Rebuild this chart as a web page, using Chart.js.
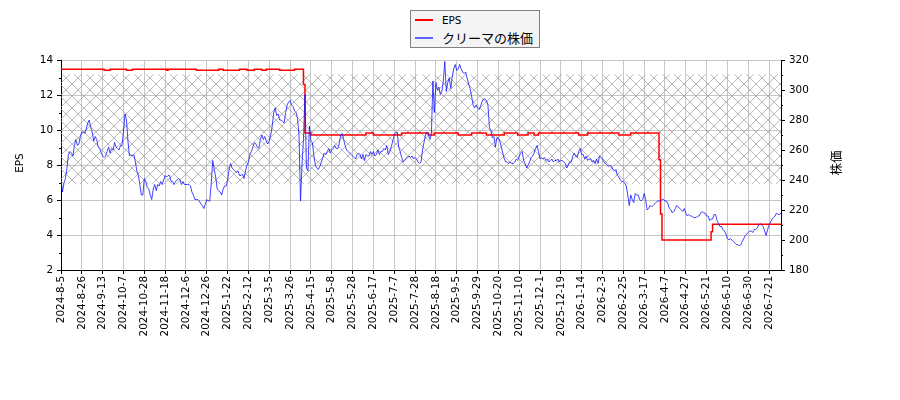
<!DOCTYPE html>
<html>
<head>
<meta charset="utf-8">
<script src="https://cdn.jsdelivr.net/npm/chart.js@4.4.1/dist/chart.umd.min.js"></script>
<style>
  body { margin: 0; background: #fff; }
  #wrap { position: relative; width: 900px; height: 400px; }
  #legend {
    position: absolute; left: 410px; top: 10px; width: 128px; height: 36px;
    border: 1px solid #808080; background: #f4f4f4;
  }
  .item { position: absolute; left: 0; width: 128px; height: 18px; }
  .sw { position: absolute; left: 4px; top: 8px; width: 18px; height: 2px; }
  .lbl { position: absolute; left: 31px; white-space: nowrap; line-height: 18px; color: #000; }
</style>
</head>
<body>
<div id="wrap">
  <canvas id="chart" width="900" height="400"></canvas>
  <div id="legend">
    <div class="item" style="top:0px">
      <div class="sw" style="background:#ff0000"></div>
      <span class="lbl" style="font:10.4px 'DejaVu Sans';line-height:18px">EPS</span>
    </div>
    <div class="item" style="top:18px">
      <div class="sw" style="background:#6060ff"></div>
      <span class="lbl" style="font:13px 'Noto Sans CJK JP';line-height:18px">クリーマの株価</span>
    </div>
  </div>
</div>
<script>
// x tick labels, one every 14 trading days
const tickLabels = ["2024-8-5","2024-8-26","2024-9-13","2024-10-7","2024-10-28","2024-11-18","2024-12-6","2024-12-26",
  "2025-1-22","2025-2-12","2025-3-5","2025-3-26","2025-4-15","2025-5-8","2025-5-28","2025-6-17","2025-7-7",
  "2025-7-28","2025-8-18","2025-9-5","2025-9-29","2025-10-20","2025-11-10","2025-12-1","2025-12-19",
  "2026-1-14","2026-2-3","2026-2-25","2026-3-17","2026-4-7","2026-4-27","2026-5-21","2026-6-10","2026-6-30","2026-7-21"];
const tickEvery = 14;

// EPS: trading-day index where the value changes, and the value from there on
const epsDay = [0, 29, 33, 44, 48, 71, 72, 91, 106, 109, 120, 125, 130, 135, 138, 147, 157, 163,
  164, 168, 205, 210, 229, 247, 251, 267, 276, 286, 298, 307, 314, 318, 321, 348, 354, 375, 383,
  402, 403, 404, 437, 438, 484];
const epsVal = [13.47, 13.41, 13.47, 13.41, 13.47, 13.41, 13.47, 13.41, 13.47, 13.41, 13.47, 13.41, 13.47, 13.41, 13.47, 13.41, 13.47, 12.6,
  9.83, 9.72, 9.83, 9.72, 9.83, 9.72, 9.83, 9.72, 9.83, 9.72, 9.83, 9.72, 9.83, 9.72, 9.83, 9.72, 9.83, 9.72, 9.83,
  8.3, 5.2, 3.71, 4.19, 4.61, 4.61];

// daily close, one value per trading day
const price = [
  241,232,238,241,248,257,259,258,256,263, 267,263,264,269,272,272,271,274,278,280,
  275,272,266,269,267,262,261,258,256,255, 256,259,262,258,261,260,265,262,261,260,
  263,263,272,284,280,266,256,257,256,257, 252,246,243,237,230,230,241,239,235,234,
  230,227,234,237,233,237,236,239,237,240, 243,242,243,243,239,239,237,239,240,241,
  240,237,239,237,237,237,237,236,232,230, 227,227,227,226,224,223,221,224,227,226,
  226,238,253,247,242,234,233,232,230,234, 236,236,240,247,251,248,247,246,245,246,
  243,243,244,241,246,250,252,257,259,262, 265,264,262,261,267,270,267,269,266,264,
  266,270,276,285,288,283,284,280,280,279, 278,285,290,292,293,290,289,286,285,281,
  270,226,250,267,297,248,246,276,266,265, 256,250,248,247,249,252,255,258,257,259,
  261,258,260,261,263,261,261,264,270,271, 267,263,260,259,258,257,256,255,254,257,
  258,257,254,257,253,257,256,256,259,257, 259,256,257,260,257,259,259,261,260,263,
  257,259,262,266,270,271,272,262,259,255, 252,253,254,255,256,255,256,254,255,254,
  252,251,252,260,265,270,272,270,267,271, 306,285,305,300,302,297,299,306,319,299,
  305,308,301,309,314,317,313,314,317,314, 312,311,312,308,304,301,296,290,288,290,
  288,287,289,292,294,294,293,290,275,273, 268,269,262,268,268,266,262,258,254,252,
  252,251,252,251,251,252,254,253,256,258, 259,253,251,248,250,252,255,256,258,261,
  263,259,254,255,254,255,253,254,252,253, 254,252,253,253,254,252,253,253,252,251,
  248,250,252,252,256,258,256,255,259,261, 257,257,254,256,253,254,254,252,253,251,
  254,251,256,255,254,252,251,250,249,250, 249,247,246,247,243,242,240,239,239,238,
  236,230,223,230,227,225,231,230,230,227, 226,227,231,227,220,221,223,222,223,224,
  225,226,226,226,227,227,226,226,224,221, 220,218,219,221,223,222,221,220,219,221,
  218,216,217,216,216,215,215,215,216,216, 218,219,218,218,216,216,213,214,214,217,
  217,213,211,209,209,207,206,204,201,200, 201,200,199,198,197,197,196,197,199,201,
  203,204,205,206,206,205,207,207,208,210, 211,210,209,206,203,207,210,212,214,215,
  216,218,217,217,218
];

// hatched price band (right axis)
const bandTop = 310.5;
const bandBottom = 237.2;

function makeHatch() {
    const c = document.createElement('canvas');
    c.width = 12; c.height = 12;
    const g = c.getContext('2d');
    g.strokeStyle = '#a8a8a8';
    g.lineWidth = 0.8;
    g.beginPath();
    g.moveTo(-1, -1); g.lineTo(13, 13);
    g.moveTo(13, -1); g.lineTo(-1, 13);
    g.stroke();
    return g.createPattern(c, 'repeat');
}

const hatchBand = {
    id: 'hatchBand',
    beforeDatasetsDraw(chart) {
        const { ctx, chartArea: a, scales } = chart;
        const y0 = scales.y1.getPixelForValue(bandTop);
        const y1 = scales.y1.getPixelForValue(bandBottom);
        ctx.save();
        ctx.fillStyle = makeHatch();
        ctx.fillRect(a.left, y0, a.right - a.left, y1 - y0);
        ctx.restore();
    }
};

const extras = {
    id: 'extras',
    afterDraw(chart) {
        const { ctx, chartArea: a, scales } = chart;
        ctx.save();
        ctx.strokeStyle = '#000';
        ctx.lineWidth = 1;
        ctx.beginPath();
        // minor ticks
        for (let v = 3; v < 14; v += 2) {
            const y = Math.round(scales.y.getPixelForValue(v)) + 0.5;
            ctx.moveTo(a.left - 2, y); ctx.lineTo(a.left, y);
        }
        for (let v = 190; v < 320; v += 20) {
            const y = Math.round(scales.y1.getPixelForValue(v)) + 0.5;
            ctx.moveTo(a.right, y); ctx.lineTo(a.right + 2, y);
        }
        ctx.stroke();

        // axis titles
        const mid = (a.top + a.bottom) / 2 - 2;
        ctx.fillStyle = '#000';
        ctx.textAlign = 'center';
        ctx.textBaseline = 'middle';
        ctx.translate(20, mid);
        ctx.rotate(-Math.PI / 2);
        ctx.font = '10.4px "DejaVu Sans"';
        ctx.fillText('EPS', 0, 0);
        ctx.restore();

        ctx.save();
        ctx.fillStyle = '#000';
        ctx.textAlign = 'center';
        ctx.textBaseline = 'middle';
        ctx.translate(836, mid);
        ctx.rotate(-Math.PI / 2);
        ctx.font = '12.5px "Noto Sans CJK JP"';
        ctx.fillText('株価', 0, 0);
        ctx.restore();
    }
};

Chart.defaults.font.family = '"DejaVu Sans"';
Chart.defaults.font.size = 10.4;
Chart.defaults.color = '#000';

new Chart(document.getElementById('chart'), {
    type: 'line',
    data: {
        datasets: [
            {
                label: 'EPS',
                data: epsDay.map((d, i) => ({ x: d, y: epsVal[i] })),
                yAxisID: 'y',
                borderColor: '#ff0000',
                borderWidth: 1.5,
                stepped: 'before',
                pointRadius: 0,
                order: 1,
            },
            {
                label: 'クリーマの株価',
                data: price.map((v, i) => ({ x: i, y: v })),
                yAxisID: 'y1',
                borderColor: 'rgba(20, 20, 255, 0.8)',
                borderWidth: 1,
                pointRadius: 0,
                order: 0,
            }
        ]
    },
    options: {
        responsive: false,
        animation: false,
        devicePixelRatio: 1,
        layout: { padding: { top: 60, left: 0, right: 0, bottom: 0 } },
        plugins: {
            legend: { display: false },
            tooltip: { enabled: false }
        },
        scales: {
            x: {
                type: 'linear',
                min: 0,
                max: price.length - 1,
                afterFit: s => { s.height = 130; },
                afterBuildTicks: s => { s.ticks = tickLabels.map((_, i) => ({ value: i * tickEvery })); },
                ticks: {
                    autoSkip: false,
                    minRotation: 90,
                    maxRotation: 90,
                    padding: 2,
                    callback: v => tickLabels[Math.round(v / tickEvery)] || ''
                },
                grid: { color: '#b8b8b8', lineWidth: 0.8, tickColor: '#000', tickWidth: 1, tickLength: 4 },
                border: { color: '#000', width: 1 }
            },
            y: {
                position: 'left',
                min: 2,
                max: 14,
                afterFit: s => { s.width = 61; },
                ticks: { stepSize: 2, padding: 4 },
                grid: { color: '#b8b8b8', lineWidth: 0.8, tickColor: '#000', tickWidth: 1, tickLength: 4 },
                border: { color: '#000', width: 1 }
            },
            y1: {
                position: 'right',
                min: 180,
                max: 320,
                afterFit: s => { s.width = 119; },
                ticks: { stepSize: 20, padding: 4 },
                grid: { drawOnChartArea: false, tickColor: '#000', tickWidth: 1, tickLength: 4 },
                border: { color: '#000', width: 1 }
            }
        }
    },
    plugins: [hatchBand, extras]
});
</script>
</body>
</html>
